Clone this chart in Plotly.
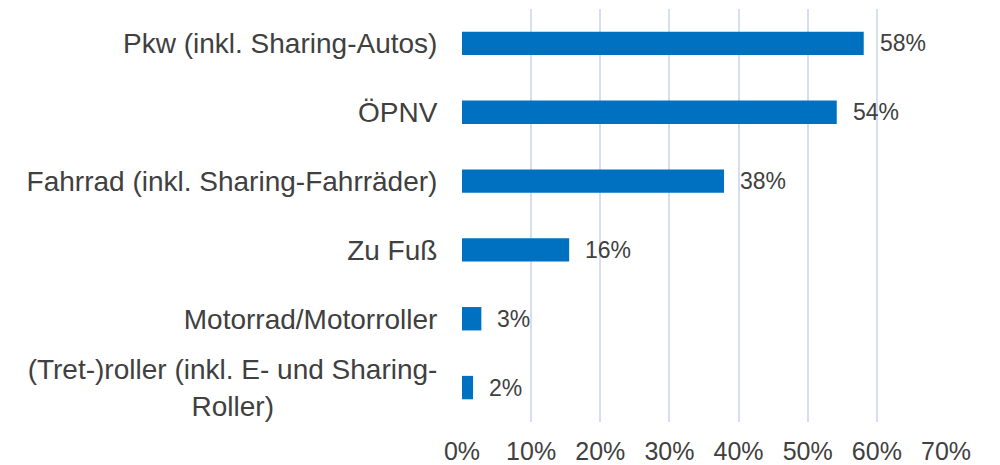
import plotly.graph_objects as go

categories = [
    "Pkw (inkl. Sharing-Autos)",
    "ÖPNV",
    "Fahrrad (inkl. Sharing-Fahrräder)",
    "Zu Fuß",
    "Motorrad/Motorroller",
    "(Tret-)roller (inkl. E- und Sharing-<br>Roller)" + "\u00a0" * 21,
]
values = [58.1, 54.2, 37.9, 15.5, 2.8, 1.6]
value_labels = ["58%", "54%", "38%", "16%", "3%", "2%"]
x_ticks = [0, 10, 20, 30, 40, 50, 60, 70]
x_tick_labels = ["0%", "10%", "20%", "30%", "40%", "50%", "60%", "70%"]

FONT = "Arial, 'Liberation Sans', sans-serif"
TEXT = "#404040"

fig = go.Figure(
    go.Bar(
        x=values,
        y=categories,
        orientation="h",
        marker=dict(color="#0070C0", line=dict(width=0)),
        width=0.34,
        hoverinfo="skip",
    )
)

for v, c, t in zip(values, categories, value_labels):
    fig.add_annotation(
        x=v, y=c, xref="x", yref="y", text=t, showarrow=False,
        xanchor="left", yanchor="middle", xshift=14,
        font=dict(family=FONT, size=23, color=TEXT),
    )

fig.update_layout(
    width=992, height=457,
    margin=dict(l=454, r=54, t=1, b=43, autoexpand=False),
    paper_bgcolor="white", plot_bgcolor="white",
    showlegend=False,
)
fig.update_xaxes(
    range=[0, 70], tickvals=x_ticks, ticktext=x_tick_labels,
    showgrid=True, gridcolor="#D6DEF5", gridwidth=1.5,
    zeroline=False, showline=False, automargin=False,
    ticks="outside", ticklen=7, tickcolor="rgba(0,0,0,0)",
    tickfont=dict(family=FONT, size=25, color=TEXT),
)
fig.update_yaxes(
    categoryorder="array", categoryarray=categories[::-1],
    autorange=False, range=[-0.5, 5.5],
    showgrid=False, zeroline=False, showline=False, automargin=False,
    ticks="outside", ticklen=18, tickcolor="rgba(0,0,0,0)",
    tickfont=dict(family=FONT, size=28, color=TEXT),
)

fig.write_html("out.html")
